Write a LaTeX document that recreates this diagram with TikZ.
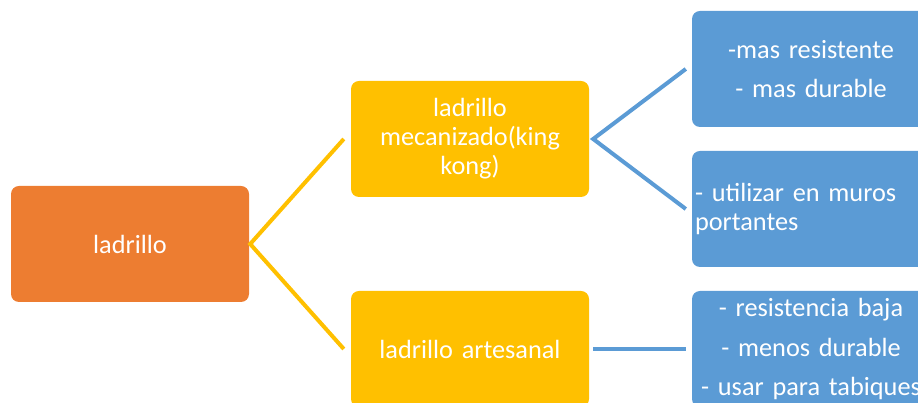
\documentclass[tikz,border=0pt]{standalone}
\usepackage{fontspec}
\setmainfont{Carlito}
\definecolor{cOrange}{HTML}{ED7D31}
\definecolor{cYellow}{HTML}{FFC000}
\definecolor{cBlue}{HTML}{5B9BD5}
\newcommand{\boxfont}[1]{\fontsize{26.3}{#1}\selectfont\spaceskip=5.2pt plus 1pt minus 1pt\relax}
\begin{document}
\begin{tikzpicture}[x=1pt,y=1pt,
  boxbase/.style={rounded corners=8pt, minimum width=238pt, minimum height=116pt,
    text=white, inner sep=3pt, font=\boxfont{29}},
  orangebox/.style={boxbase, fill=cOrange},
  yellowbox/.style={boxbase, fill=cYellow, text width=232pt, align=center},
  bluebox/.style={boxbase, fill=cBlue, text width=232pt, align=center,
    font=\boxfont{39.5}},
  blueleft/.style={boxbase, fill=cBlue, text width=232pt, align=left},
  ylink/.style={draw=cYellow, line width=4pt},
  blink/.style={draw=cBlue, line width=4pt}]
\useasboundingbox (0,0) rectangle (918,403);
\clip (0,0) rectangle (918,403);
\node[orangebox] (lad) at (130,159) {ladrillo};
\node[yellowbox] (mec) at (470,264) {ladrillo\\mecanizado(king\\kong)};
\node[yellowbox] (art) at (470,54) {ladrillo artesanal};
\node[bluebox] (b1) at (811,334) {-mas resistente\\- mas durable};
\node[blueleft] (b2) at (811,194) {- utilizar en muros\\portantes};
\node[bluebox] (b3) at (811,54) {- resistencia baja\\- menos durable\\- usar para tabiques};
\draw[ylink] ([xshift=-7pt]mec.west) -- ([xshift=1pt]lad.east) -- ([xshift=-7pt]art.west);
\draw[blink] ([xshift=-6pt]b1.west) -- ([xshift=4pt]mec.east) -- ([xshift=-6pt]b2.west);
\draw[blink] ([xshift=4pt]art.east) -- ([xshift=-6pt]b3.west);
\end{tikzpicture}
\end{document}
